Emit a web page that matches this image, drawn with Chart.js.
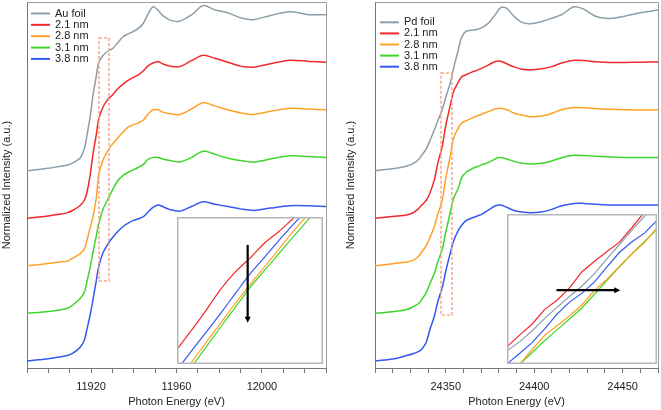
<!DOCTYPE html>
<html><head><meta charset="utf-8">
<script src="https://cdn.jsdelivr.net/npm/chart.js@4.4.1/dist/chart.umd.min.js"></script>
<style>
html,body{margin:0;padding:0;background:#fff;}
#wrap{position:relative;width:661px;height:410px;overflow:hidden;background:#fff;}
canvas{position:absolute;}
</style></head>
<body><div id="wrap">
<canvas id="cAu" width="333" height="410" style="left:0;top:0"></canvas>
<canvas id="cPd" width="321" height="410" style="left:344px;top:0"></canvas>
<canvas id="iAu" width="146" height="147" style="left:177px;top:217px"></canvas>
<canvas id="iPd" width="150" height="150" style="left:507px;top:214px"></canvas>
</div>
<script>
// ---------- data ----------
const seriesNames = ['Au foil', '2.1 nm', '2.8 nm', '3.1 nm', '3.8 nm'];
const pdNames = ['Pd foil', '2.1 nm', '2.8 nm', '3.1 nm', '3.8 nm'];
const seriesColors = ['#8c9ea8', '#f02a2a', '#ffa126', '#3fd62c', '#3558ee'];
const offsets = [1.22, 0.915, 0.61, 0.305, 0];

const auEnergy = [11890,11900,11905,11909,11911.5,11915,11917,11918,11919.5,11921,11922.5,11923.5,11925.5,11928,11930,11932.5,11935,11937.5,11939.5,11942,11944.5,11946.5,11949,11951.5,11953.5,11957,11961.5,11967,11972.5,11978,11984,11990,11996,12004,12013,12022,12030];
const auFoil = [0,0.015,0.027,0.036,0.05,0.083,0.15,0.22,0.34,0.494,0.61,0.69,0.737,0.767,0.782,0.82,0.858,0.877,0.89,0.91,0.945,1.0,1.051,1.026,0.995,0.965,0.958,0.998,1.058,1.03,1.012,0.98,0.968,0.995,1.018,1.0,1.0];
const au21 = [0,0.015,0.025,0.036,0.051,0.083,0.12,0.16,0.27,0.42,0.54,0.63,0.71,0.765,0.79,0.83,0.86,0.885,0.90,0.918,0.945,0.975,0.995,1.003,0.99,0.975,0.972,1.01,1.045,1.025,1.0,0.975,0.968,0.99,1.013,1.005,1.0];
const au28 = [0,0.015,0.024,0.03,0.049,0.08,0.11,0.16,0.24,0.32,0.44,0.58,0.675,0.742,0.78,0.82,0.858,0.89,0.903,0.915,0.935,0.97,1.0,1.0,0.985,0.975,0.97,1.005,1.045,1.025,1.0,0.98,0.97,0.99,1.01,1.005,1.0];
const au31 = [0,0.012,0.022,0.033,0.054,0.097,0.14,0.2,0.29,0.4,0.5,0.57,0.665,0.735,0.79,0.85,0.885,0.905,0.918,0.935,0.955,0.985,1.0,1.0,0.99,0.98,0.97,1.0,1.04,1.02,0.995,0.98,0.97,0.99,1.01,1.005,1.0];
const au38 = [0,0.015,0.025,0.035,0.05,0.09,0.14,0.2,0.29,0.4,0.52,0.6,0.69,0.752,0.79,0.83,0.862,0.885,0.9,0.91,0.925,0.952,0.985,1.0,0.99,0.97,0.96,0.99,1.02,1.005,0.99,0.975,0.965,0.98,0.995,0.995,0.99];

const pdEnergy = [24310,24321,24328,24331.5,24334.5,24336.5,24339,24341,24343.5,24345.5,24348,24350,24352.5,24354.5,24357,24359,24361.5,24364.5,24367.5,24371,24374.5,24378,24381,24384.5,24388.5,24393,24398,24404,24409.5,24415.5,24422.5,24428,24435,24443,24451,24460,24470];
const pdFoil = [0,0.014,0.03,0.045,0.07,0.10,0.14,0.19,0.26,0.32,0.39,0.47,0.56,0.66,0.77,0.855,0.894,0.90,0.905,0.92,0.95,1.0,1.045,1.04,0.99,0.95,0.942,0.955,0.975,1.0,1.05,1.035,0.988,0.976,0.99,1.012,1.029];
const pd21 = [0,0.012,0.021,0.035,0.06,0.085,0.115,0.16,0.244,0.352,0.46,0.594,0.72,0.815,0.87,0.906,0.92,0.935,0.948,0.965,0.985,1.005,1.006,0.99,0.97,0.955,0.952,0.958,0.97,0.995,1.012,1.011,1.003,0.998,0.999,1.0,1.002];
const pd28 = [0,0.015,0.025,0.035,0.06,0.09,0.13,0.18,0.25,0.33,0.42,0.56,0.70,0.82,0.88,0.915,0.93,0.945,0.96,0.975,0.99,1.005,1.01,1.0,0.98,0.965,0.955,0.96,0.975,1.0,1.015,1.013,1.008,1.003,1.0,0.999,1.0];
const pd31 = [0,0.012,0.025,0.042,0.062,0.09,0.135,0.19,0.255,0.33,0.41,0.52,0.645,0.74,0.8,0.87,0.905,0.925,0.94,0.955,0.97,0.99,1.0,0.99,0.975,0.962,0.957,0.962,0.975,0.998,1.013,1.012,1.008,1.003,1.0,0.999,1.0];
const pd38 = [0,0.015,0.035,0.046,0.06,0.077,0.12,0.2,0.285,0.38,0.47,0.575,0.69,0.77,0.835,0.87,0.9,0.915,0.928,0.945,0.97,0.995,1.0,0.985,0.965,0.955,0.95,0.955,0.97,0.995,1.01,1.01,1.005,1.0,1.0,1.0,1.0];

const auInsetEnergy = [11923.5,11924,11924.5,11925,11925.5,11926,11926.5,11927,11927.5,11928,11928.5];
const auInset21 = [0.580,0.619,0.660,0.703,0.738,0.766,0.797,0.821,0.848,0.874,0.900];
const auInset28 = [0.515,0.554,0.594,0.634,0.674,0.712,0.748,0.785,0.822,0.856,0.891];
const auInset31 = [0.503,0.544,0.585,0.626,0.666,0.706,0.741,0.776,0.811,0.845,0.880];
const auInset38 = [0.538,0.577,0.615,0.654,0.694,0.734,0.768,0.803,0.836,0.868,0.900];

const pdInsetEnergy = [24347,24347.5,24348,24348.5,24349,24349.5,24350,24350.5,24351,24351.5,24352,24352.5,24353];
const pdInsetFoil = [0.335,0.359,0.388,0.421,0.451,0.480,0.508,0.541,0.581,0.619,0.657,0.694,0.729];
const pdInset21 = [0.346,0.377,0.406,0.445,0.470,0.503,0.546,0.574,0.600,0.625,0.664,0.705,0.745];
const pdInset28 = [0.263,0.299,0.338,0.376,0.402,0.428,0.458,0.496,0.526,0.561,0.594,0.624,0.663];
const pdInset31 = [0.268,0.299,0.330,0.362,0.391,0.420,0.450,0.486,0.523,0.559,0.594,0.627,0.659];
const pdInset38 = [0.300,0.328,0.357,0.393,0.433,0.465,0.489,0.519,0.559,0.598,0.626,0.649,0.683];

const auBox = {x0: 11923.7, x1: 11928.4, y0: 0.513, y1: 2.07};
const pdBox = {x0: 24347.3, x1: 24353.5, y0: 0.295, y1: 1.846};
const auArrow = {x0: 11925.92, y0: 0.793, x1: 11925.92, y1: 0.634};
const pdArrow = {x0: 24348.98, y0: 0.497, x1: 24351.53, y1: 0.497};

// ---------- helpers ----------
const FONT = '"Liberation Sans", Arial, sans-serif';
Chart.defaults.font.family = FONT;
Chart.defaults.color = '#222';

function mainDatasets(energy, series, names) {
  return series.map((vals, i) => ({
    label: names[i],
    data: energy.map((e, k) => ({x: e, y: vals[k] + offsets[i]})),
    borderColor: seriesColors[i],
    borderWidth: 1.5,
    pointRadius: 0,
    tension: 0.3,
    fill: false
  }));
}

function framePlugin(box, names, legendDx, legendDy, rowH) {
  return {
    id: 'frame',
    afterDatasetsDraw(chart) {
      const {ctx, chartArea: a, scales: {x, y}} = chart;
      ctx.save();
      ctx.strokeStyle = '#f6a78e';
      ctx.lineWidth = 1.5;
      ctx.setLineDash([3, 2]);
      const bx0 = x.getPixelForValue(box.x0), bx1 = x.getPixelForValue(box.x1);
      const by0 = y.getPixelForValue(box.y1), by1 = y.getPixelForValue(box.y0);
      ctx.strokeRect(bx0, by0, bx1 - bx0, by1 - by0);
      ctx.setLineDash([]);
      ctx.strokeStyle = '#9a9a9a';
      ctx.lineWidth = 1;
      ctx.beginPath();
      ctx.moveTo(a.left, a.top + 0.5); ctx.lineTo(a.right + 0.5, a.top + 0.5);
      ctx.lineTo(a.right + 0.5, a.bottom);
      ctx.stroke();
      ctx.font = '11px ' + FONT;
      ctx.textBaseline = 'middle';
      ctx.fillStyle = '#222';
      names.forEach((n, i) => {
        const yy = a.top + legendDy + rowH * i;
        ctx.strokeStyle = seriesColors[i];
        ctx.lineWidth = 2;
        ctx.beginPath();
        ctx.moveTo(a.left + legendDx, yy); ctx.lineTo(a.left + legendDx + 19, yy);
        ctx.stroke();
        ctx.fillText(n, a.left + legendDx + 24, yy);
      });
      ctx.restore();
    }
  };
}

function mainOptions(xmin, xmax, labelStep, yWidth) {
  return {
    responsive: false, animation: false, devicePixelRatio: 1,
    layout: {padding: {top: 2, right: 0, left: 0, bottom: 0}},
    plugins: {legend: {display: false}, tooltip: {enabled: false}},
    scales: {
      x: {
        type: 'linear', min: xmin, max: xmax,
        afterFit(s) { s.height = 42; },
        ticks: {stepSize: 10, autoSkip: false, maxRotation: 0, padding: 7,
          font: {size: 11}, color: '#222',
          callback: v => (v % labelStep === 0 ? String(v) : '')},
        grid: {display: true, drawOnChartArea: false, drawTicks: true, tickLength: 5, color: '#777'},
        border: {display: true, color: '#777', width: 1},
        title: {display: true, text: 'Photon Energy (eV)', font: {size: 11}, color: '#222', padding: {top: 0, bottom: 1}}
      },
      y: {
        type: 'linear', min: -0.045, max: 2.301,
        afterFit(s) { s.width = yWidth; },
        ticks: {display: false},
        grid: {display: false},
        border: {display: true, color: '#777', width: 1},
        title: {display: true, text: 'Normalized Intensity (a.u.)', font: {size: 11}, color: '#222', padding: 0}
      }
    }
  };
}

new Chart(document.getElementById('cAu'), {
  type: 'line',
  data: {datasets: mainDatasets(auEnergy, [auFoil, au21, au28, au31, au38], seriesNames)},
  options: mainOptions(11890, 12030, 40, 27),
  plugins: [framePlugin(auBox, seriesNames, 4, 11.5, 11.35)]
});
new Chart(document.getElementById('cPd'), {
  type: 'line',
  data: {datasets: mainDatasets(pdEnergy, [pdFoil, pd21, pd28, pd31, pd38], pdNames)},
  options: mainOptions(24310, 24470, 50, 31),
  plugins: [framePlugin(pdBox, pdNames, 5, 20.3, 11.1)]
});

// ---------- insets ----------
function insetPlugin(arrow) {
  return {
    id: 'inset',
    beforeDraw(chart) {
      const c = chart.ctx;
      c.save(); c.fillStyle = '#fff'; c.fillRect(0, 0, chart.width, chart.height); c.restore();
    },
    afterDatasetsDraw(chart) {
      const {ctx, chartArea: a, scales: {x, y}} = chart;
      ctx.save();
      ctx.strokeStyle = '#b3b7bf';
      ctx.lineWidth = 1.5;
      ctx.strokeRect(a.left + 0.75, a.top + 0.75, a.right - a.left - 1.5, a.bottom - a.top - 1.5);
      const x0 = x.getPixelForValue(arrow.x0), y0 = y.getPixelForValue(arrow.y0);
      const x1 = x.getPixelForValue(arrow.x1), y1 = y.getPixelForValue(arrow.y1);
      const ang = Math.atan2(y1 - y0, x1 - x0);
      const hl = 6, hw = 3;
      ctx.strokeStyle = '#000'; ctx.fillStyle = '#000'; ctx.lineWidth = 2.2;
      ctx.beginPath(); ctx.moveTo(x0, y0);
      ctx.lineTo(x1 - Math.cos(ang) * hl * 0.6, y1 - Math.sin(ang) * hl * 0.6); ctx.stroke();
      ctx.beginPath();
      ctx.moveTo(x1, y1);
      ctx.lineTo(x1 - Math.cos(ang) * hl - Math.sin(ang) * hw, y1 - Math.sin(ang) * hl + Math.cos(ang) * hw);
      ctx.lineTo(x1 - Math.cos(ang) * hl + Math.sin(ang) * hw, y1 - Math.sin(ang) * hl - Math.cos(ang) * hw);
      ctx.closePath(); ctx.fill();
      ctx.restore();
    }
  };
}
function insetDataset(energy, vals, color, label, smooth) {
  return {label, data: energy.map((e, k) => ({x: e, y: vals[k]})), borderColor: color,
    borderWidth: 1.2, pointRadius: 0, tension: smooth ? 0.3 : 0, fill: false};
}
function insetOptions(xmin, xmax, ymin, ymax) {
  return {
    responsive: false, animation: false, devicePixelRatio: 1,
    layout: {padding: 0},
    plugins: {legend: {display: false}, tooltip: {enabled: false}},
    scales: {
      x: {type: 'linear', min: xmin, max: xmax, display: false},
      y: {type: 'linear', min: ymin, max: ymax, display: false}
    }
  };
}
new Chart(document.getElementById('iAu'), {
  type: 'line',
  data: {datasets: [
    insetDataset(auInsetEnergy, auInset28, seriesColors[2], '2.8 nm', true),
    insetDataset(auInsetEnergy, auInset31, seriesColors[3], '3.1 nm', true),
    insetDataset(auInsetEnergy, auInset38, seriesColors[4], '3.8 nm', true),
    insetDataset(auInsetEnergy, auInset21, seriesColors[1], '2.1 nm', true)
  ]},
  options: insetOptions(11923.5, 11928.5, 0.55, 0.85),
  plugins: [insetPlugin(auArrow)]
});
new Chart(document.getElementById('iPd'), {
  type: 'line',
  data: {datasets: [
    insetDataset(pdInsetEnergy, pdInset28, seriesColors[2], '2.8 nm', false),
    insetDataset(pdInsetEnergy, pdInset31, seriesColors[3], '3.1 nm', false),
    insetDataset(pdInsetEnergy, pdInset38, seriesColors[4], '3.8 nm', false),
    insetDataset(pdInsetEnergy, pdInsetFoil, seriesColors[0], 'Pd foil', false),
    insetDataset(pdInsetEnergy, pdInset21, seriesColors[1], '2.1 nm', false)
  ]},
  options: insetOptions(24347, 24353, 0.3, 0.7),
  plugins: [insetPlugin(pdArrow)]
});
</script>
</body></html>
